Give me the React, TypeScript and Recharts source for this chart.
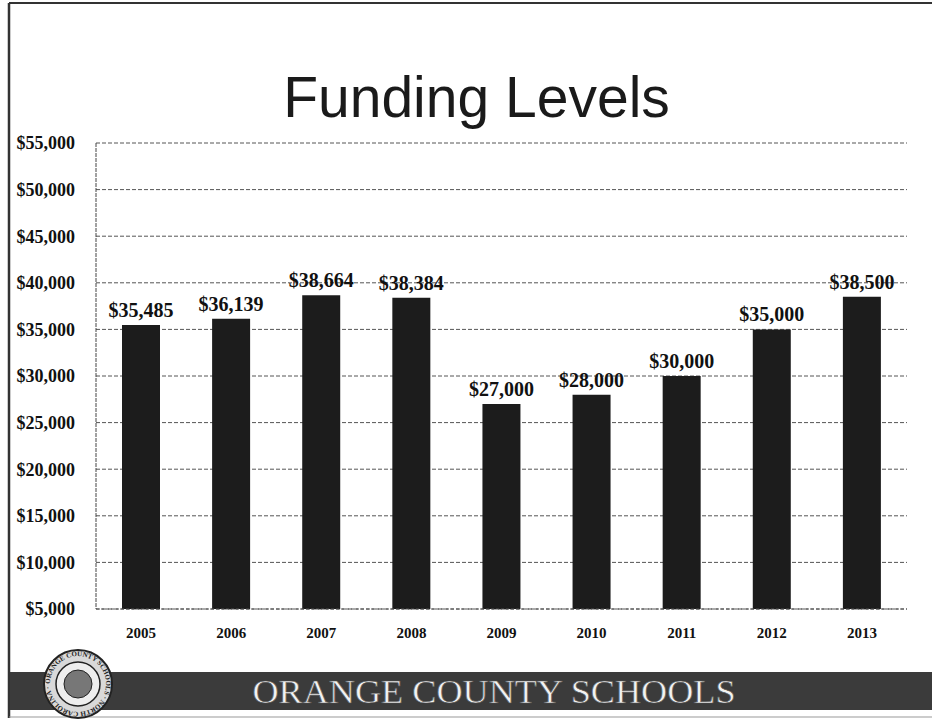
import React from "react";
import { BarChart, Bar, XAxis, YAxis, CartesianGrid, LabelList } from "recharts";

const years = ["2005", "2006", "2007", "2008", "2009", "2010", "2011", "2012", "2013"];
const funding = [35485, 36139, 38664, 38384, 27000, 28000, 30000, 35000, 38500];
const yTicks = [5000, 10000, 15000, 20000, 25000, 30000, 35000, 40000, 45000, 50000, 55000];

const data = years.map((y, i) => ({ year: y, value: funding[i] }));

const money = (v: number) => "$" + v.toLocaleString("en-US");

const serif = "'Liberation Serif', 'DejaVu Serif', serif";

export default function App() {
  return (
    <div style={{ position: "absolute", left: 0, top: 0, width: 932, height: 723, background: "#fff", overflow: "hidden" }}>
      <div
        style={{
          position: "absolute",
          left: 0,
          width: 953,
          top: 67,
          textAlign: "center",
          fontFamily: "'Liberation Sans', Arial, sans-serif",
          fontSize: 57,
          color: "#1a1a1a",
          lineHeight: "60px",
        }}
      >
        Funding Levels
      </div>
      <div style={{ position: "absolute", left: 0, top: 0 }}>
        <BarChart
          width={932}
          height={723}
          data={data}
          margin={{ top: 143, right: 25, bottom: 84, left: 9 }}
          barSize={38}
        >
          <CartesianGrid vertical={false} stroke="#555" strokeDasharray="4 2" />
          <XAxis
            dataKey="year"
            height={30}
            axisLine={{ stroke: "#555", strokeDasharray: "3 2" }}
            tickLine={false}
            tickMargin={12}
            tick={{ fontFamily: serif, fontSize: 15, fontWeight: 700, fill: "#111" }}
          />
          <YAxis
            width={87}
            domain={[5000, 55000]}
            ticks={yTicks}
            interval={0}
            tickFormatter={money}
            axisLine={{ stroke: "#444", strokeDasharray: "4 1" }}
            tickLine={false}
            tickSize={0}
            tickMargin={21}
            tick={{ fontFamily: serif, fontSize: 18, fontWeight: 700, fill: "#111" }}
          />
          <Bar dataKey="value" fill="#1c1c1c" isAnimationActive={false}>
            <LabelList
              dataKey="value"
              position="top"
              offset={8}
              formatter={(v: any) => money(Number(v))}
              style={{ fontFamily: serif, fontSize: 20, fontWeight: 700, fill: "#111" }}
            />
          </Bar>
        </BarChart>
      </div>
      <svg width={932} height={723} style={{ position: "absolute", left: 0, top: 0, pointerEvents: "none" }}>
        <defs>
          <path id="sealArc" d="M 50 684 A 28 28 0 1 1 106 684 A 28 28 0 1 1 50 684" />
        </defs>
        {/* frame */}
        <line x1={9} y1={3} x2={932} y2={3} stroke="#333" strokeWidth={2} />
        <line x1={9} y1={3} x2={9} y2={718} stroke="#333" strokeWidth={2.5} />
        <line x1={9} y1={717} x2={932} y2={717} stroke="#999" strokeWidth={1} />
        {/* footer band */}
        <rect x={10} y={672} width={922} height={38} fill="#3b3b3b" />
        <text
          x={494}
          y={703}
          textAnchor="middle"
          textLength={483}
          lengthAdjust="spacingAndGlyphs"
          fontFamily={serif}
          fontSize={33}
          fill="#f2f2f2"
          stroke="#555"
          strokeWidth={0.6}
        >
          ORANGE COUNTY SCHOOLS
        </text>
        {/* seal */}
        <circle cx={78} cy={684} r={34} fill="#d9d9d9" stroke="#222" strokeWidth={2} />
        <circle cx={78} cy={684} r={22} fill="#eee" stroke="#222" strokeWidth={1.5} />
        <circle cx={78} cy={684} r={14} fill="#777" stroke="#222" strokeWidth={1} />
        <text fontFamily={serif} fontSize={7} fontWeight={700} fill="#222">
          <textPath href="#sealArc">ORANGE COUNTY SCHOOLS · NORTH CAROLINA ·</textPath>
        </text>
      </svg>
    </div>
  );
}
